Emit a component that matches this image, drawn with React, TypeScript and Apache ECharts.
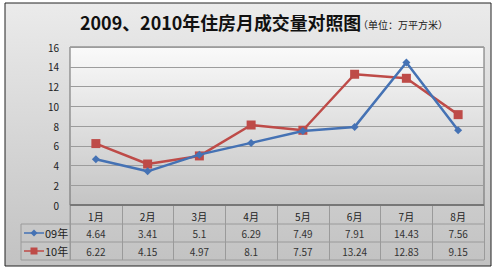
import React, { useEffect, useRef } from "react";
import * as echarts from "echarts";

const months = ["1月", "2月", "3月", "4月", "5月", "6月", "7月", "8月"];
const seriesNames = ["09年", "10年"];
const values09 = [4.64, 3.41, 5.1, 6.29, 7.49, 7.91, 14.43, 7.56];
const values10 = [6.22, 4.15, 4.97, 8.1, 7.57, 13.24, 12.83, 9.15];
const colors = ["#4572B4", "#BE4B48"];
const titleMain = "2009、2010年住房月成交量对照图";
const titleUnit = "（单位：万平方米）";

const W = 500, H = 271;
const gridL = 70, gridR = 484, gridT = 47, gridB = 205;
const rowYs = [224, 242, 260];
const legendL = 21;
const font = "'Noto Sans CJK SC', 'Noto Sans', sans-serif";

export default function App() {
  const ref = useRef<HTMLDivElement>(null);
  useEffect(() => {
    if (!ref.current) return;
    const chart = echarts.init(ref.current, undefined, { renderer: "svg" });
    const colW = (gridR - gridL) / months.length;
    const rows = [values09, values10];
    const graphics: any[] = [
      {
        type: "rect", z: -10, silent: true,
        shape: { x: 5, y: 3, width: 486, height: 263 },
        style: {
          fill: new echarts.graphic.LinearGradient(0, 0, 0, 1, [
            { offset: 0, color: "#ebebeb" },
            { offset: 1, color: "#c2c2c2" },
          ]),
          stroke: "#222", lineWidth: 1,
        },
      },
      {
        type: "rect", z: -9, silent: true,
        shape: { x: gridL, y: gridT, width: gridR - gridL, height: gridB - gridT },
        style: {
          fill: new echarts.graphic.LinearGradient(0, 0, 0, 1, [
            { offset: 0, color: "#fafafa" },
            { offset: 1, color: "#c4c4c4" },
          ]),
          stroke: "#6a6a6a", lineWidth: 1,
        },
      },
      {
        type: "line", silent: true, z: 5,
        shape: { x1: gridL, y1: gridB, x2: gridR, y2: gridB },
        style: { stroke: "#777", lineWidth: 2 },
      },
      {
        type: "text", silent: true,
        style: {
          x: 80, y: 22, text: titleMain, align: "left", verticalAlign: "middle",
          font: `bold 17.9px ${font}`, fill: "#111",
        },
      },
      {
        type: "text", silent: true,
        style: {
          x: 358, y: 24, text: titleUnit, align: "left", verticalAlign: "middle",
          font: `10px ${font}`, fill: "#222",
        },
      },
    ];
    rowYs.forEach((y) => {
      graphics.push({
        type: "line", silent: true,
        shape: { x1: legendL, y1: y, x2: gridR, y2: y },
        style: { stroke: "#9a9a9a", lineWidth: 1 },
      });
    });
    graphics.push({
      type: "line", silent: true,
      shape: { x1: legendL, y1: rowYs[0], x2: legendL, y2: rowYs[2] },
      style: { stroke: "#9a9a9a", lineWidth: 1 },
    });
    graphics.push({
      type: "line", silent: true,
      shape: { x1: gridL, y1: gridB, x2: gridL, y2: rowYs[2] },
      style: { stroke: "#9a9a9a", lineWidth: 1 },
    });
    rows.forEach((vals, r) => {
      const cy = (rowYs[r] + rowYs[r + 1]) / 2;
      vals.forEach((v, i) => {
        graphics.push({
          type: "text", silent: true,
          style: {
            x: gridL + (i + 0.5) * colW, y: cy, text: String(v),
            align: "center", verticalAlign: "middle",
            font: `10px ${font}`, fill: "#333",
          },
        });
      });
      graphics.push({
        type: "line", silent: true,
        shape: { x1: 24, y1: cy, x2: 44, y2: cy },
        style: { stroke: colors[r], lineWidth: 1.5 },
      });
      if (r === 0) {
        graphics.push({
          type: "polygon", silent: true,
          shape: { points: [[34, cy - 3.5], [37.5, cy], [34, cy + 3.5], [30.5, cy]] },
          style: { fill: colors[r] },
        });
      } else {
        graphics.push({
          type: "rect", silent: true,
          shape: { x: 30.5, y: cy - 3.5, width: 7, height: 7 },
          style: { fill: colors[r] },
        });
      }
      graphics.push({
        type: "text", silent: true,
        style: {
          x: 45, y: cy, text: seriesNames[r], align: "left", verticalAlign: "middle",
          font: `11px ${font}`, fill: "#222",
        },
      });
    });

    chart.setOption({
      animation: false,
      grid: { left: gridL, right: W - gridR, top: gridT, bottom: H - gridB },
      xAxis: {
        type: "category", data: months, boundaryGap: true,
        axisLine: { show: false },
        axisTick: { show: true, interval: 0, inside: false, length: rowYs[2] - gridB, lineStyle: { color: "#9a9a9a" } },
        axisLabel: { interval: 0, fontSize: 10, color: "#222", margin: 6, fontFamily: font },
      },
      yAxis: {
        type: "value", min: 0, max: 16, interval: 2,
        axisLine: { show: false }, axisTick: { show: false },
        axisLabel: { fontSize: 10, color: "#222", margin: 11, fontFamily: font },
        splitLine: { lineStyle: { color: "#9c9c9c", width: 1 } },
      },
      graphic: graphics,
      series: [
        {
          name: seriesNames[0], type: "line", data: values09, symbol: "diamond", symbolSize: 8,
          itemStyle: { color: colors[0] }, lineStyle: { color: colors[0], width: 2.5 }, z: 3,
        },
        {
          name: seriesNames[1], type: "line", data: values10, symbol: "rect", symbolSize: 9,
          itemStyle: { color: colors[1] }, lineStyle: { color: colors[1], width: 2.5 }, z: 2,
        },
      ],
    });
    return () => chart.dispose();
  }, []);
  return <div ref={ref} style={{ position: "fixed", left: 0, top: 0, width: W, height: H, background: "#fff" }} />;
}
